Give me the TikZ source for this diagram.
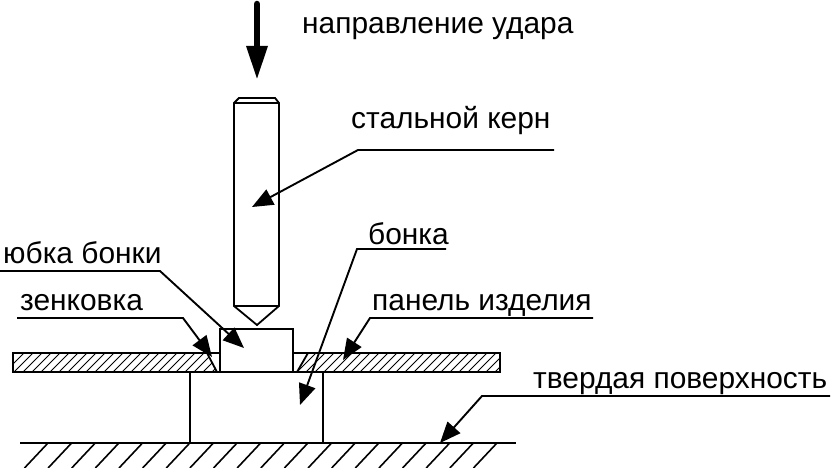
\documentclass[tikz,border=0pt]{standalone}
\usepackage{fontspec}
\setmainfont{Liberation Sans}
\usetikzlibrary{arrows.meta}
\tikzset{
  x=1pt,y=-1pt,
  body/.style={draw=black,line width=1.8pt,line join=miter},
  hatchline/.style={draw=black,line width=0.9pt},
  groundline/.style={draw=black,line width=1.6pt},
  leader/.style={draw=black,line width=1.9pt,-{Triangle[length=21pt,width=17pt]}},
  bigarrow/.style={draw=black,line width=6.5pt,line cap=round},
  label/.style={font=\fontsize{29.9}{33}\selectfont,anchor=base west,inner sep=0pt,text=black}
}
\begin{document}
\begin{tikzpicture}
\useasboundingbox (0,0) rectangle (831,468);
% panel hatch
\begin{scope}
  \clip (13,353) -- (207,353) -- (217,372) -- (13,372) -- cycle;
  \foreach \i in {0,...,24} {\draw[hatchline] ({5+\i*9},372) -- ({24+\i*9},353);}
\end{scope}
\begin{scope}
  \clip (308,353) -- (500,353) -- (500,372) -- (297,372) -- cycle;
  \foreach \i in {0,...,24} {\draw[hatchline] ({288+\i*9},372) -- ({307+\i*9},353);}
\end{scope}
\draw[body] (13,353) rectangle (500,372);
\draw[body] (207,353) -- (217,372);
\draw[body] (308,353) -- (297,372);
% bonka
\draw[body,fill=white] (220,329) rectangle (293,372);
% block
\draw[body] (190,372) -- (190,443) (323,372) -- (323,443);
% ground
\draw[groundline] (20,443) -- (516,443);
\foreach \i in {0,...,19} {\draw[groundline] ({48+\i*23.63},443) -- ({24.5+\i*23.63},468);}
% punch
\draw[body] (234,306) -- (234,103) -- (239,98) -- (275,98) -- (279,103) -- (279,306) -- (257,325) -- cycle;
\draw[body] (234,103) -- (279,103) (234,306) -- (279,306);
% strike arrow
\coordinate (strikeA) at (257,4);
\coordinate (strikeB) at (257,47);
\coordinate (strikeTip) at (257,78.5);
\draw[bigarrow] (strikeA) -- (strikeB);
\fill[black] (246,46) -- (268,46) -- (strikeTip) -- cycle;
% labels
\node[label] (lblHit) at (302,34) {направление удара};
\node[label] (lblCore) at (351,129) {стальной керн};
\node[label] (lblBonka) at (368,245) {бонка};
\node[label] (lblSkirt) at (3,263) {юбка бонки};
\node[label] (lblCsk) at (20,310) {зенковка};
\node[label] (lblPanel) at (372,310) {панель изделия};
\node[label] (lblSurf) at (533,388) {твердая поверхность};
% leaders
\coordinate (c1) at (554,150); \coordinate (c2) at (358,150); \coordinate (c3) at (252,207);
\draw[leader] (c1) -- (c2) -- (c3);
\coordinate (b1) at (446,249); \coordinate (b2) at (357,249); \coordinate (b3) at (300,405);
\draw[leader] (b1) -- (b2) -- (b3);
\coordinate (s1) at (0,271); \coordinate (s2) at (160,271); \coordinate (s3) at (244,348);
\draw[leader] (s1) -- (s2) -- (s3);
\coordinate (k1) at (17,318); \coordinate (k2) at (183,318); \coordinate (k3) at (212,357);
\draw[leader] (k1) -- (k2) -- (k3);
\coordinate (p1) at (593,318); \coordinate (p2) at (370,318); \coordinate (p3) at (343,360);
\draw[leader] (p1) -- (p2) -- (p3);
\coordinate (t1) at (830,396); \coordinate (t2) at (482,396); \coordinate (t3) at (440,443);
\draw[leader] (t1) -- (t2) -- (t3);
\end{tikzpicture}
\end{document}
